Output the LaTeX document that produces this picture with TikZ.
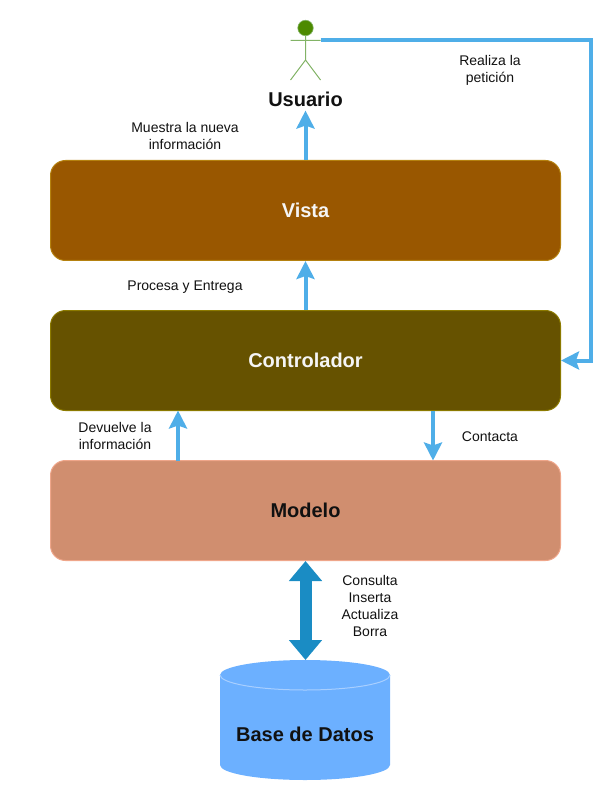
\documentclass[tikz,border=0pt]{standalone}
\usepackage{fontspec}
\setmainfont{Liberation Sans}
\usetikzlibrary{arrows.meta}
\definecolor{arrowblue}{HTML}{4FAEE8}
\definecolor{deepblue}{HTML}{1A8CC4}
\definecolor{vistafill}{HTML}{995700}
\definecolor{vistaedge}{HTML}{B5810F}
\definecolor{ctrlfill}{HTML}{665200}
\definecolor{ctrledge}{HTML}{8C7A00}
\definecolor{modfill}{HTML}{D08E6F}
\definecolor{modedge}{HTML}{EFA68A}
\definecolor{dbfill}{HTML}{6CB0FF}
\definecolor{dbedge}{HTML}{A8CFFF}
\definecolor{actline}{HTML}{82B366}
\definecolor{acthead}{HTML}{4D8A00}
\definecolor{inktext}{HTML}{111111}
\tikzset{
  bigbold/.style={font=\bfseries\fontsize{20}{24}\selectfont},
  layerbox/.style={rectangle,rounded corners=15pt,minimum width=510pt,minimum height=100pt,line width=1pt,inner sep=0pt,bigbold},
  note/.style={align=center,inner sep=0pt,text=inktext,font=\fontsize{14}{17}\selectfont},
  flow/.style={draw=arrowblue,line width=4pt,-{Stealth[length=18pt,width=18pt,inset=3pt]}},
  bigflow/.style={draw=deepblue,line width=12pt,{Triangle[length=20pt,width=32pt]}-{Triangle[length=20pt,width=32pt]}},
  limb/.style={draw=actline,line width=1pt}
}
\begin{document}
\begin{tikzpicture}[x=1pt,y=-1pt]
\useasboundingbox (0,0) rectangle (611,791);
% layers
\node[layerbox,fill=vistafill,draw=vistaedge,text=white!96!black] (vista) at (305.5,210.5) {Vista};
\node[layerbox,fill=ctrlfill,draw=ctrledge,text=white!96!black] (ctrl) at (305.5,360.5) {Controlador};
\node[layerbox,fill=modfill,draw=modedge,text=inktext] (modelo) at (305.5,510.5) {Modelo};
% database cylinder
\fill[dbfill] (220,675) arc[start angle=180,end angle=0,x radius=85,y radius=-15]
  -- (390,765) arc[start angle=0,end angle=-180,x radius=85,y radius=-15] -- cycle;
\draw[dbedge,line width=1pt] (220,675) arc[start angle=180,end angle=360,x radius=85,y radius=-15];
\coordinate (dbtop) at (305.5,660);
\node[inner sep=0pt,text=inktext,bigbold] (db) at (305,734) {Base de Datos};
% actor
\node[circle,fill=acthead,draw=actline,line width=.6pt,minimum size=15.5pt,inner sep=0pt] (head) at (305.5,28) {};
\coordinate (hip) at (305.5,60);
\coordinate (armL) at (290.5,40.5);
\coordinate (armR) at (320.5,40.5);
\coordinate (footL) at (290.5,80);
\coordinate (footR) at (320.5,80);
\draw[limb] (head) -- (hip) (armL) -- (armR) (footL) -- (hip) -- (footR);
\node[inner sep=0pt,text=inktext,bigbold] (usuario) at (305.5,99) {Usuario};
% connectors
\draw[flow] (armR) -| (591,360.5) -- (ctrl.east);
\draw[flow,shorten >=4pt] (vista.north) -- (usuario.south);
\draw[flow] (ctrl.north) -- (vista.south);
\coordinate (ctrlup) at (178,410.5);
\coordinate (modup) at (178,460.5);
\coordinate (ctrldn) at (433,410.5);
\coordinate (moddn) at (433,460.5);
\draw[flow] (modup) -- (ctrlup);
\draw[flow] (ctrldn) -- (moddn);
\draw[bigflow] (modelo.south) -- (dbtop);
% labels
\node[note] at (185,135.5) {Muestra la nueva\\información};
\node[note] at (490,70.5) {Realiza la\\petición};
\node[note] at (185,287) {Procesa y Entrega};
\node[note] at (115,435.5) {Devuelve la\\información};
\node[note] at (490,437) {Contacta};
\node[note] at (370,605.5) {Consulta\\Inserta\\Actualiza\\Borra};
\end{tikzpicture}
\end{document}
